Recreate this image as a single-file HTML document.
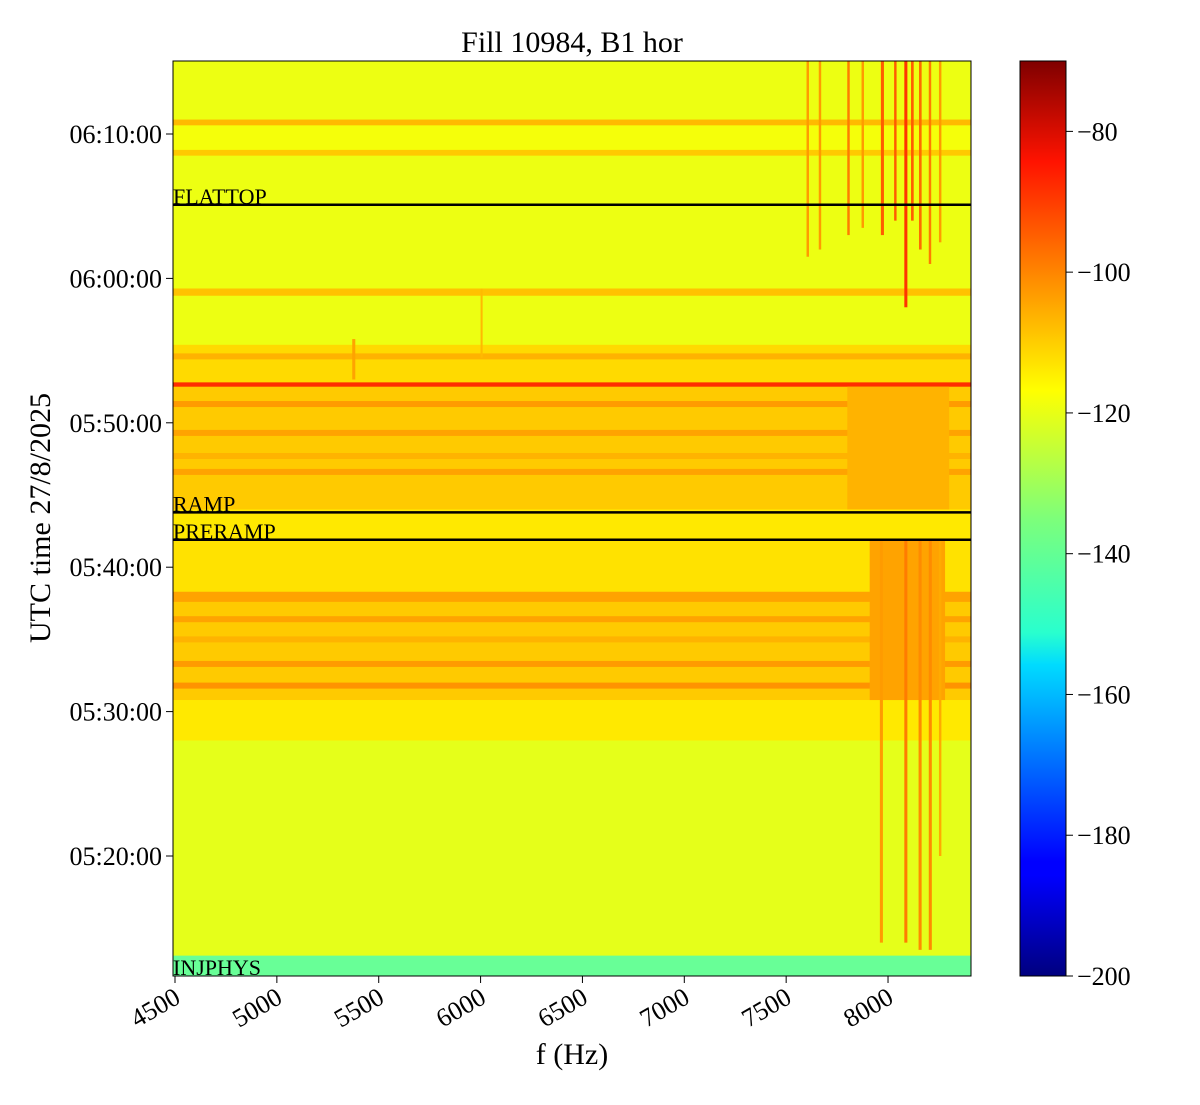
<!DOCTYPE html>
<html><head><meta charset="utf-8"><style>
html,body{margin:0;padding:0;background:#fff;}
svg text{font-family:"Liberation Serif",serif;}
</style></head><body>
<svg id="chart" width="1200" height="1100" xmlns="http://www.w3.org/2000/svg">
<defs>
<linearGradient id="jet" x1="0" y1="1" x2="0" y2="0">
<stop offset="0" stop-color="#00007f"/><stop offset="0.11" stop-color="#0000ff"/>
<stop offset="0.125" stop-color="#0000ff"/><stop offset="0.34" stop-color="#00dbff"/>
<stop offset="0.375" stop-color="#29ffce"/><stop offset="0.5" stop-color="#7dff7a"/>
<stop offset="0.64" stop-color="#ffff00"/><stop offset="0.89" stop-color="#ff1300"/>
<stop offset="1" stop-color="#7f0000"/>
</linearGradient>
<clipPath id="plotclip"><rect x="173" y="61" width="798" height="915"/></clipPath>
</defs>
<text x="572" y="52" font-size="30" text-anchor="middle">Fill 10984, B1 hor</text>
<g id="cells" clip-path="url(#plotclip)"></g>
<g id="marks"></g>
<rect x="173" y="61" width="798" height="915" fill="none" stroke="#000" stroke-width="1"/>
<g id="xaxis"></g>
<g id="yaxis"></g>
<text x="572" y="1064" font-size="30" text-anchor="middle">f (Hz)</text>
<text transform="translate(50,518) rotate(-90)" font-size="30" text-anchor="middle">UTC time 27/8/2025</text>
<rect x="1020" y="61" width="46" height="915" fill="url(#jet)" stroke="#000" stroke-width="1"/>
<g id="cbaxis"></g>
</svg>
<script>
// time in minutes since 05:00 UTC; levels in dB
const bandT0 = [71.0,70.6,68.9,68.5,59.3,58.8,55.4,52.8,52.5,44.0,41.9,38.3,37.6,30.8,28.0,13.1,11.6];
const bandT1 = [75.1,71.0,70.6,68.9,68.5,59.3,58.8,55.4,52.8,52.5,44.0,41.9,38.3,37.6,30.8,28.0,13.1];
const bandLevel = [-121,-110,-120,-112,-121,-111,-121,-114,-92,-112,-116,-115,-107,-112,-116,-122,-138];
const stripeT = [51.3,49.3,46.6,54.6,36.4,35.0,33.3,31.8,47.7];
const stripeLevel = [-106,-107,-107,-109,-107,-109,-106,-105,-109];
const patchF0 = [7910,7800,7600,7660,7800,7870,7965,8030,8080,8113,8152,8200,8250,7960,8080,8150,8200,8250,5370,6000];
const patchF1 = [8280,8300,7612,7672,7812,7882,7980,8042,8095,8126,8165,8212,8262,7975,8095,8165,8215,8262,5385,6010];
const patchT0 = [30.8,44.0,61.5,62.0,63.0,63.5,63.0,64.0,58.0,64.0,62.0,61.0,62.5,14.0,14.0,13.5,13.5,20.0,53.0,54.5];
const patchT1 = [41.9,52.5,75.1,75.1,75.1,75.1,75.1,75.1,75.1,75.1,75.1,75.1,75.1,41.9,41.9,41.9,41.9,41.9,55.8,59.3];
const patchLevel = [-107,-109,-106,-106,-102,-106,-98,-98,-93,-98,-100,-102,-106,-106,-102,-104,-104,-108,-107,-110];
const markerNames = ["FLATTOP","RAMP","PRERAMP","INJPHYS"];
const markerT = [65.1,43.8,41.9,11.7];
const xTicks = [4500,5000,5500,6000,6500,7000,7500,8000];
const yTicks = [20,30,40,50,60,70];
const yTickLabels = ["05:20:00","05:30:00","05:40:00","05:50:00","06:00:00","06:10:00"];
const cbTicks = [-80,-100,-120,-140,-160,-180,-200];

const NS="http://www.w3.org/2000/svg";
const X=f=>175+(f-4500)*0.20372;
const Y=t=>134-(t-70)*14.44;
const C=v=>976-(v+200)*7.0385;
function jet(v){
  let x=Math.max(0,Math.min(1,(v+200)/130));
  const cl=a=>Math.round(255*Math.max(0,Math.min(1,a)));
  const r=cl(Math.min(4*x-1.5,-4*x+4.5)),g=cl(Math.min(4*x-0.5,-4*x+3.5)),b=cl(Math.min(4*x+0.5,-4*x+2.5));
  return `rgb(${r},${g},${b})`;
}
function el(tag,attrs,parent){const e=document.createElementNS(NS,tag);for(const k in attrs)e.setAttribute(k,attrs[k]);parent.appendChild(e);return e;}
const cells=document.getElementById('cells');
for(let i=0;i<bandLevel.length;i++){
  const r=el('rect',{x:173,y:Y(bandT1[i]),width:798,height:Y(bandT0[i])-Y(bandT1[i])+0.5,fill:jet(bandLevel[i])},cells);
  
  
}
for(let i=0;i<stripeT.length;i++){
  const r=el('rect',{x:173,y:Y(stripeT[i])-3,width:798,height:6,fill:jet(stripeLevel[i])},cells);
  
  
}
for(let i=0;i<patchLevel.length;i++){
  const r=el('rect',{x:X(patchF0[i]),y:Y(patchT1[i]),width:X(patchF1[i])-X(patchF0[i]),height:Y(patchT0[i])-Y(patchT1[i]),fill:jet(patchLevel[i])},cells);
  
  
}
const marks=document.getElementById('marks');
for(let i=0;i<markerNames.length;i++){
  const y=Y(markerT[i]);
  if(i<3){const l=el('line',{x1:173,x2:971,y1:y,y2:y,stroke:'#000','stroke-width':2.5},marks);
    
    }
  const t=el('text',{x:173,y:y-1,'font-size':22},marks);t.textContent=markerNames[i];
  
  
}
const xa=document.getElementById('xaxis');
xTicks.forEach(f=>{
  const x=X(f);
  el('line',{x1:x,x2:x,y1:976,y2:983,stroke:'#000'},xa);
  const t=el('text',{x:0,y:0,'font-size':26,'text-anchor':'end',transform:`translate(${x+7},${1002}) rotate(-30)`},xa);
  t.textContent=f;
  
  
});
const ya=document.getElementById('yaxis');
yTickLabels.forEach((s,i)=>{
  const y=Y(yTicks[i]);
  el('line',{x1:166,x2:173,y1:y,y2:y,stroke:'#000'},ya);
  const t=el('text',{x:162,y:y+9,'font-size':26,'text-anchor':'end'},ya);t.textContent=s;
  
  
});
const cb=document.getElementById('cbaxis');
cbTicks.forEach(v=>{
  const y=C(v);
  el('line',{x1:1066,x2:1073,y1:y,y2:y,stroke:'#000'},cb);
  const t=el('text',{x:1077,y:y+9,'font-size':26},cb);t.textContent='\u2212'+Math.abs(v);
  
  
});
</script>
</body></html>
